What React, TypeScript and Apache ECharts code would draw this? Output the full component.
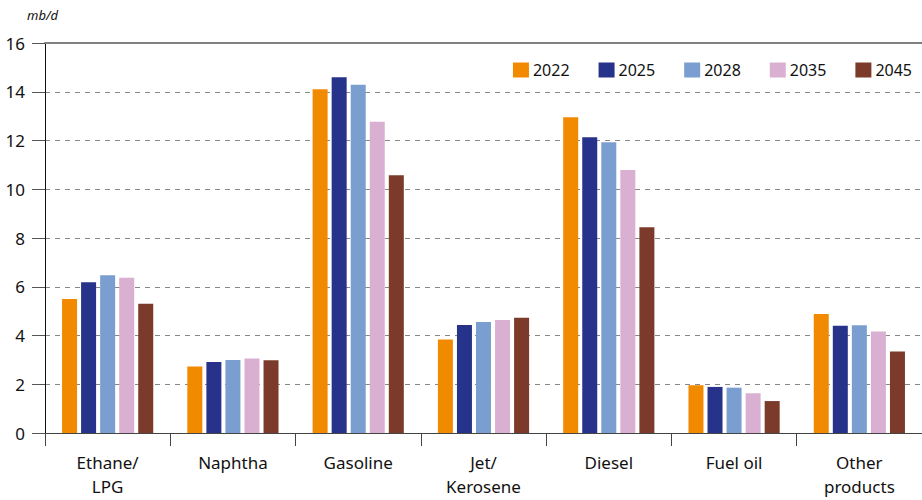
import React, { useEffect, useRef } from "react";
import * as echarts from "echarts";

const categories = ["Ethane/\nLPG", "Naphtha", "Gasoline", "Jet/\nKerosene", "Diesel", "Fuel oil", "Other\nproducts"];
const seriesNames = ["2022", "2025", "2028", "2035", "2045"];
const s2022 = [5.5, 2.73, 14.1, 3.84, 12.95, 1.96, 4.88];
const s2025 = [6.18, 2.91, 14.6, 4.43, 12.13, 1.89, 4.4];
const s2028 = [6.47, 2.99, 14.29, 4.55, 11.93, 1.86, 4.42];
const s2035 = [6.37, 3.06, 12.77, 4.64, 10.79, 1.63, 4.16];
const s2045 = [5.3, 2.98, 10.57, 4.73, 8.44, 1.31, 3.34];
const seriesData = [s2022, s2025, s2028, s2035, s2045];
const colors = ["#F28A00", "#27338A", "#7B9ED0", "#DAB0D2", "#7C3A2A"];
const yTicks = { min: 0, max: 16, interval: 2 };
const unitLabel = "mb/d";

export default function App() {
  const ref = useRef<HTMLDivElement>(null);
  useEffect(() => {
    if (!ref.current) return;
    const chart = echarts.init(ref.current, null, { renderer: "svg" });
    const font = "'Noto Sans', Roboto, sans-serif";
    chart.setOption({
      animation: false,
      textStyle: { fontFamily: font },
      grid: { left: 45, right: 0, top: 43, bottom: 67, containLabel: false },
      legend: {
        right: 5,
        top: 57,
        itemWidth: 16,
        itemHeight: 15,
        itemGap: 29,
        icon: "rect",
        textStyle: { fontSize: 16, color: "#111", fontFamily: font, padding: [0, 0, 0, -1] },
        data: seriesNames,
      },
      graphic: [
        {
          type: "text",
          left: 27,
          top: 8,
          style: { text: unitLabel, fontSize: 13, fontStyle: "italic", fill: "#111", fontFamily: font },
        },
      ],
      xAxis: [
        {
          type: "category",
          data: categories,
          axisLine: { show: true, lineStyle: { color: "#444", width: 1 } },
          axisTick: { show: true, length: 13, alignWithLabel: false, lineStyle: { color: "#444" } },
          axisLabel: { fontSize: 17, lineHeight: 24, margin: 17, color: "#111", fontFamily: font, interval: 0 },
          splitLine: { show: false },
        },
        {
          type: "category",
          position: "top",
          data: categories,
          axisLine: { show: true, lineStyle: { color: "#808080", width: 2 } },
          axisTick: { show: false },
          axisLabel: { show: false },
          splitLine: { show: false },
        },
      ],
      yAxis: {
        type: "value",
        min: yTicks.min,
        max: yTicks.max,
        interval: yTicks.interval,
        axisLine: { show: true, lineStyle: { color: "#111", width: 1 } },
        axisTick: { show: true, length: 13, lineStyle: { color: "#555" } },
        axisLabel: { fontSize: 17, color: "#111", margin: 20, fontFamily: font },
        splitLine: { show: true, lineStyle: { color: "#888", type: [5, 5], width: 1 } },
      },
      series: seriesNames.map((name, i) => ({
        name,
        type: "bar",
        data: seriesData[i],
        barWidth: 15,
        barGap: "27%",
        itemStyle: { color: colors[i] },
      })),
    });
    return () => chart.dispose();
  }, []);
  return <div ref={ref} style={{ width: 922, height: 500, position: "absolute", left: 0, top: 0 }} />;
}
